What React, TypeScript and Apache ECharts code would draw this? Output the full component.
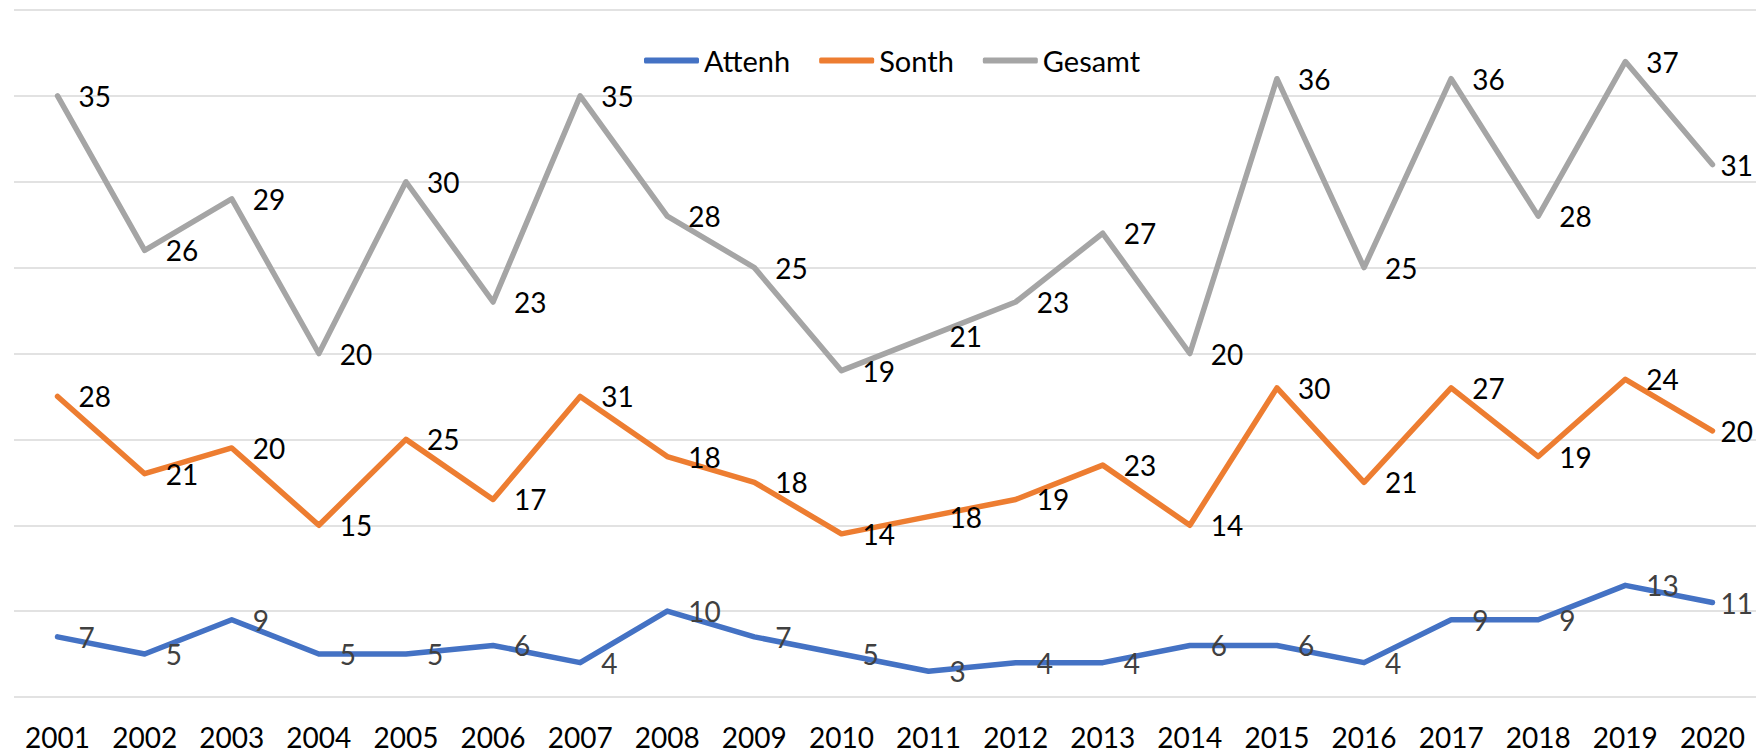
import React, { useEffect, useRef } from "react";
import * as echarts from "echarts";

const years = ["2001","2002","2003","2004","2005","2006","2007","2008","2009","2010","2011","2012","2013","2014","2015","2016","2017","2018","2019","2020"];
const attenh = [7,5,9,5,5,6,4,10,7,5,3,4,4,6,6,4,9,9,13,11];
const sonth = [28,21,20,15,25,17,31,18,18,14,18,19,23,14,30,21,27,19,24,20];
const gesamt = [35,26,29,20,30,23,35,28,25,19,21,23,27,20,36,25,36,28,37,31];

const FONT = "Lato";
const FS = 28;

function withLastLabel(values: number[]) {
  return values.map((v, i) =>
    i === values.length - 1 ? { value: v, label: { distance: 8 } } : v
  );
}

export default function App() {
  const ref = useRef<HTMLDivElement>(null);
  useEffect(() => {
    if (!ref.current) return;
    const chart = echarts.init(ref.current, null, { renderer: "svg" });
    const mk = (name: string, data: number[], color: string, labelColor: string) => ({
      name,
      type: "line",
      stack: "total",
      data: withLastLabel(data),
      symbol: "circle",
      symbolSize: 0.01,
      showSymbol: true,
      lineStyle: { color, width: 5.5, cap: "round", join: "round" },
      itemStyle: { color },
      label: {
        show: true,
        position: "right",
        distance: 21,
        color: labelColor,
        fontFamily: FONT,
        fontSize: FS,
      },
      emphasis: { disabled: true },
    });
    chart.setOption({
      animation: false,
      backgroundColor: "#ffffff",
      legend: {
        left: 639,
        top: 41,
        icon: "roundRect",
        itemWidth: 55,
        itemHeight: 6,
        itemGap: 29,
        textStyle: { fontFamily: FONT, fontSize: 29, color: "#000000" },
        data: ["Attenh", "Sonth", "Gesamt"],
      },
      grid: { left: 14, right: 7, top: 10, bottom: 58, containLabel: false },
      xAxis: {
        type: "category",
        data: years,
        boundaryGap: true,
        axisLine: { show: false },
        axisTick: { show: false },
        axisLabel: { color: "#000000", fontFamily: FONT, fontSize: FS, margin: 26, interval: 0 },
      },
      yAxis: {
        type: "value",
        min: 0,
        max: 80,
        interval: 10,
        axisLabel: { show: false },
        axisLine: { show: false },
        axisTick: { show: false },
        splitLine: { lineStyle: { color: "#D9D9D9", width: 1.5 } },
      },
      series: [
        mk("Attenh", attenh, "#4472C4", "#404040"),
        mk("Sonth", sonth, "#ED7D31", "#000000"),
        mk("Gesamt", gesamt, "#A5A5A5", "#000000"),
      ],
    });
    return () => chart.dispose();
  }, []);
  return (
    <div
      ref={ref}
      style={{ position: "fixed", left: 0, top: 0, width: 1763, height: 755, background: "#fff" }}
    />
  );
}
